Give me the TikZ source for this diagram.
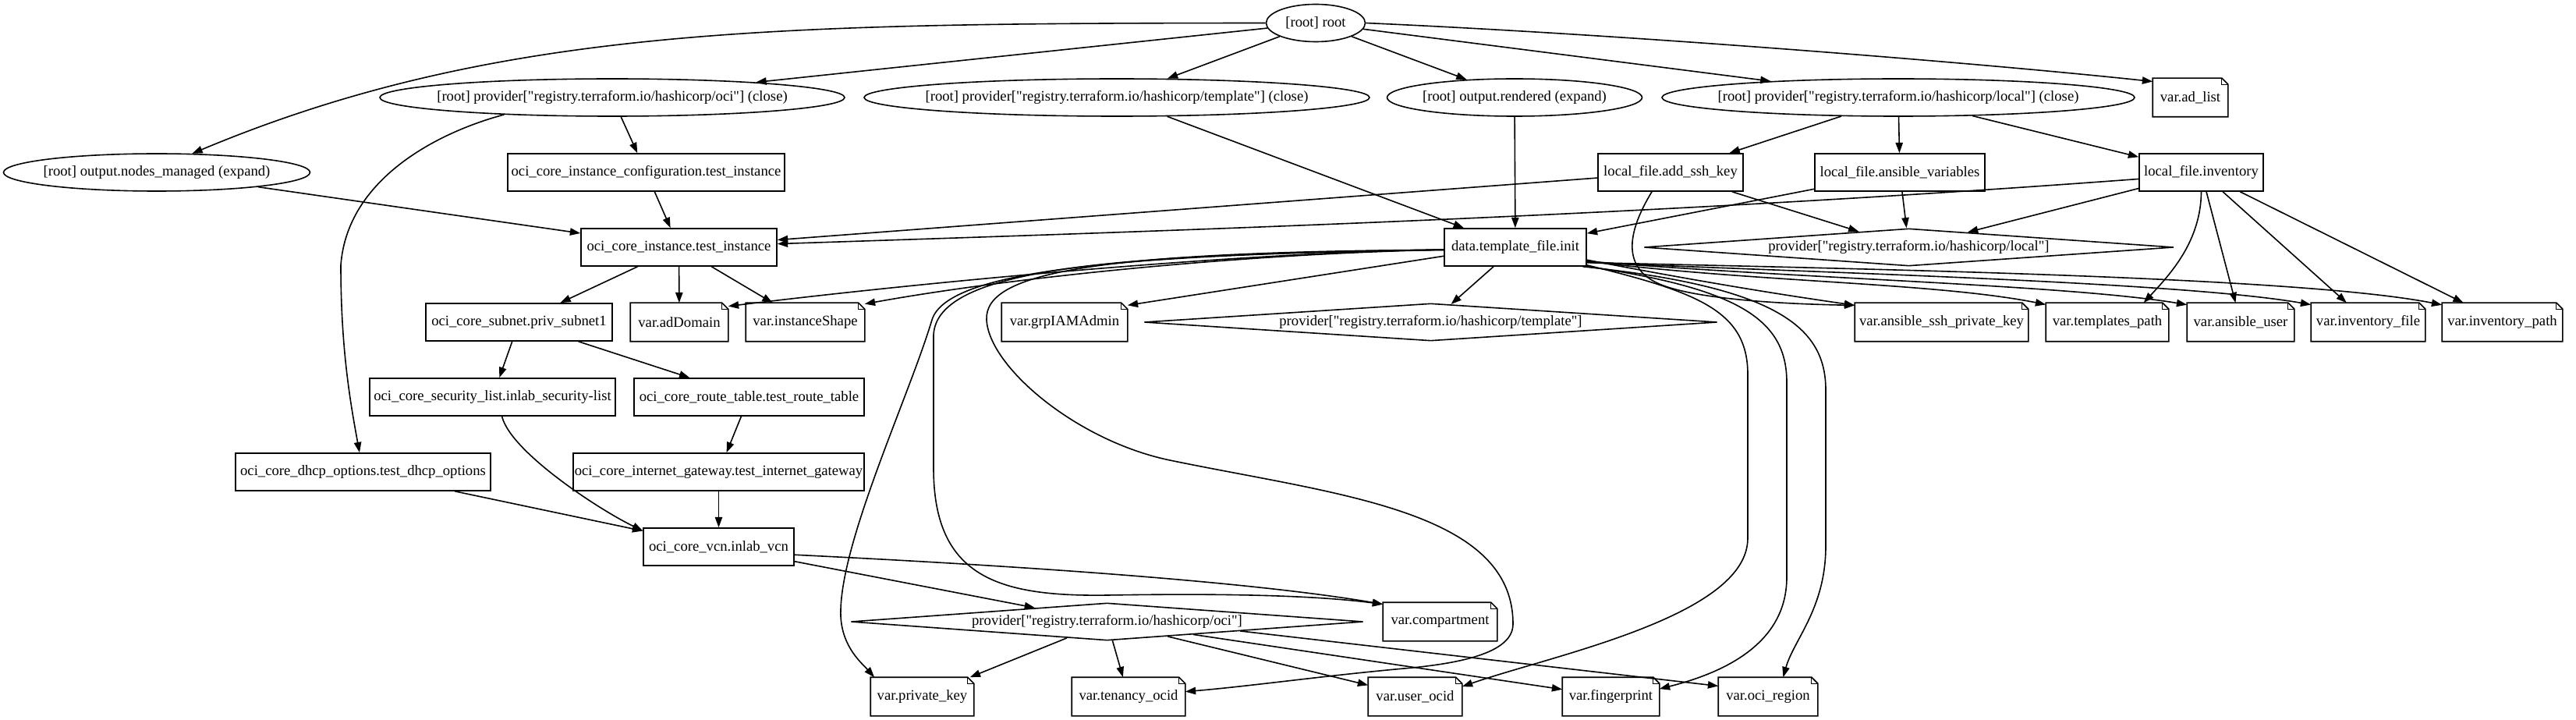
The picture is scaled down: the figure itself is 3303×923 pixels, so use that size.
\documentclass[tikz,border=0pt]{standalone}
\usepackage{fontspec}
\setmainfont{Liberation Serif}[Ligatures=TeXOff]
\usetikzlibrary{shapes.geometric,arrows.meta}
\begin{document}
\begin{tikzpicture}[x=0.75pt,y=-0.75pt,
  font=\fontsize{14}{16}\selectfont,
  line width=1.2pt,
  wpx/.style={minimum width=#1*0.75pt},
  ell/.style={ellipse,draw,inner sep=0pt,minimum height=36pt},
  bx/.style={rectangle,draw,inner sep=0pt,minimum height=36pt},
  nt/.style={rectangle,inner sep=0pt,minimum height=36pt},
  dm/.style={diamond,draw,inner sep=0pt,minimum height=36pt},
  arr/.style={-{Triangle[length=10pt,width=7pt]}},
]
\useasboundingbox (0,0) rectangle (3303,923);

% rank 0
\node[ell,wpx=127,label={center:{[root] root}}] (root) at (1687,29.5) {};
% rank 1
\node[ell,wpx=596,label={center:{[root] provider["registry.terraform.io/hashicorp/oci"] (close)}}] (pOCI) at (785,125) {};
\node[ell,wpx=648,label={center:{[root] provider["registry.terraform.io/hashicorp/template"] (close)}}] (pTPL) at (1432,125) {};
\node[ell,wpx=327,label={center:{[root] output.rendered (expand)}}] (outR) at (1942,125) {};
\node[ell,wpx=606,label={center:{[root] provider["registry.terraform.io/hashicorp/local"] (close)}}] (pLOC) at (2434,125) {};
\node[nt,wpx=95] (varAdList) at (2808.5,125) {var.ad\_list};
% rank 2
\node[ell,wpx=393,label={center:{[root] output.nodes\_managed (expand)}}] (nodesM) at (201,221) {};
\node[bx,wpx=355] (instCfg) at (828.5,221) {oci\_core\_instance\_configuration.test\_instance};
\node[bx,wpx=186] (addSsh) at (2142,221) {local\_file.add\_ssh\_key};
\node[bx,wpx=218] (ansVars) at (2436,221) {local\_file.ansible\_variables};
\node[bx,wpx=159] (inv) at (2822.5,221) {local\_file.inventory};
% rank 3
\node[bx,wpx=251] (testInst) at (870.5,317) {oci\_core\_instance.test\_instance};
\node[bx,wpx=182] (tplInit) at (1943,317) {data.template\_file.init};
\node[dm,wpx=679,label={center:{provider["registry.terraform.io/hashicorp/local"]}}] (dLoc) at (2447.5,317) {};
% rank 4
\node[bx,wpx=239] (subnet) at (665.5,413) {oci\_core\_subnet.priv\_subnet1};
\node[nt,wpx=124] (varAdDomain) at (871,413) {var.adDomain};
\node[nt,wpx=151] (varInstShape) at (1032.5,413) {var.instanceShape};
\node[nt,wpx=160] (varGrp) at (1365,413) {var.grpIAMAdmin};
\node[dm,wpx=735,label={center:{provider["registry.terraform.io/hashicorp/template"]}}] (dTpl) at (1834.5,413) {};
\node[nt,wpx=221] (varSshKey) at (2489.5,413) {var.ansible\_ssh\_private\_key};
\node[nt,wpx=156] (varTplPath) at (2702,413) {var.templates\_path};
\node[nt,wpx=136] (varAnsUser) at (2873,413) {var.ansible\_user};
\node[nt,wpx=145] (varInvFile) at (3036.5,413) {var.inventory\_file};
\node[nt,wpx=153] (varInvPath) at (3208.5,413) {var.inventory\_path};
% rank 5
\node[bx,wpx=315] (secList) at (631.5,509) {oci\_core\_security\_list.inlab\_security-list};
\node[bx,wpx=295] (routeTbl) at (960.5,509) {oci\_core\_route\_table.test\_route\_table};
% rank 6
\node[bx,wpx=327] (dhcp) at (465.5,605) {oci\_core\_dhcp\_options.test\_dhcp\_options};
\node[bx,wpx=373] (igw) at (921.5,605) {oci\_core\_internet\_gateway.test\_internet\_gateway};
% rank 7
\node[bx,wpx=193] (vcn) at (921.5,701) {oci\_core\_vcn.inlab\_vcn};
% rank 8
\node[dm,wpx=657,label={center:{provider["registry.terraform.io/hashicorp/oci"]}}] (dOci) at (1419.5,797) {};
\node[nt,wpx=145] (varComp) at (1846.5,797) {var.compartment};
% rank 9
\node[nt,wpx=131] (varPriv) at (1182.5,893) {var.private\_key};
\node[nt,wpx=144] (varTen) at (1447,893) {var.tenancy\_ocid};
\node[nt,wpx=119] (varUser) at (1814.5,893) {var.user\_ocid};
\node[nt,wpx=123] (varFp) at (2065.5,893) {var.fingerprint};
\node[nt,wpx=126] (varReg) at (2267,893) {var.oci\_region};

% note outlines
\foreach \n in {varAdList,varAdDomain,varInstShape,varGrp,varSshKey,varTplPath,varAnsUser,varInvFile,varInvPath,varComp,varPriv,varTen,varUser,varFp,varReg}{
  \draw (\n.south west) -- (\n.south east) -- ([yshift=-6pt]\n.north east) -- ([xshift=-6pt]\n.north east) -- (\n.north west) -- cycle;
  \draw[line width=0.8pt] ([xshift=-6pt]\n.north east) -- ([xshift=-6pt,yshift=-6pt]\n.north east) -- ([yshift=-6pt]\n.north east);
}

% edges from root
\draw[arr] (root.west) .. controls (1000,30) and (638,33) .. (nodesM.28);
\draw[arr] (root) -- (pOCI);
\draw[arr] (root) -- (pTPL);
\draw[arr] (root) -- (outR);
\draw[arr] (root) -- (pLOC);
\draw[arr] (root.east) .. controls (2100,45) and (2550,82) .. (varAdList.157);

% providers / outputs
\draw[arr] (pOCI) -- (instCfg);
\draw[arr] (pOCI.189) .. controls (560,170) and (445,230) .. (437,340) .. controls (437,450) and (450,520) .. (dhcp);
\draw[arr] (pTPL) -- (tplInit);
\draw[arr] (outR) -- (tplInit);
\draw[arr] (pLOC) -- (addSsh);
\draw[arr] (pLOC) -- (ansVars);
\draw[arr] (pLOC) -- (inv);

% rank 2 sources
\draw[arr] (nodesM) -- (testInst);
\draw[arr] (instCfg) -- (testInst);
\draw[arr] (addSsh) -- (testInst);
\draw[arr] (addSsh) -- (dLoc);
\draw[arr] (addSsh.226) .. controls (2085,300) and (2080,345) .. (2130,365) .. controls (2180,385) and (2300,390) .. (varSshKey.169);
\draw[arr] (ansVars) -- (tplInit);
\draw[arr] (ansVars) -- (dLoc);
\draw[arr] (inv.186) .. controls (2143,274) and (1597,293) .. (testInst.2);
\draw[arr] (inv) -- (dLoc);
\draw[arr] (inv.south) .. controls (2822,310) and (2782,352) .. (varTplPath.28);
\draw[arr] (inv) -- (varAnsUser);
\draw[arr] (inv) -- (varInvFile);
\draw[arr] (inv) -- (varInvPath);

% test instance and network
\draw[arr] (testInst) -- (subnet);
\draw[arr] (testInst) -- (varAdDomain);
\draw[arr] (testInst) -- (varInstShape);
\draw[arr] (subnet) -- (secList);
\draw[arr] (subnet) -- (routeTbl);
\draw[arr] (secList.-64) .. controls (655,580) and (771,655) .. (vcn.168);
\draw[arr] (routeTbl) -- (igw);
\draw[arr] (igw) -- (vcn);
\draw[arr] (dhcp) -- (vcn);
\draw[arr] (vcn.-6) .. controls (1300,725) and (1600,745) .. (varComp.163);
\draw[arr] (vcn) -- (dOci);

% data.template_file.init
\draw[arr] (tplInit.182) .. controls (1600,323) and (1200,360) .. (varAdDomain.18);
\draw[arr] (tplInit.182) .. controls (1600,325) and (1300,355) .. (varInstShape.17);
\draw[arr] (tplInit.187) -- (varGrp.15);
\draw[arr] (tplInit.182) .. controls (1450,326) and (1215,345) .. (1195,410) .. controls (1165,510) and (1075,700) .. (1078,790) .. controls (1080,830) and (1105,850) .. (varPriv.158);
\draw[arr] (tplInit.182) .. controls (1450,326) and (1200,340) .. (1197,430) -- (1197,600) .. controls (1197,740) and (1280,765) .. (1420,763) .. controls (1600,760) and (1700,765) .. (varComp.163);
\draw[arr] (tplInit.182) .. controls (1400,323) and (1262,350) .. (1265,410) .. controls (1268,470) and (1380,565) .. (1500,590) .. controls (1713,634) and (1940,654) .. (1940,800) .. controls (1940,835) and (1880,850) .. (1800,857) .. controls (1700,866) and (1600,880) .. (varTen.5);
\draw[arr] (tplInit) -- (dTpl);
\draw[arr] (tplInit.-10) .. controls (2200,365) and (2300,380) .. (varSshKey.169);
\draw[arr] (tplInit.-11) .. controls (2250,362) and (2480,362) .. (varTplPath.164);
\draw[arr] (tplInit.-11) .. controls (2300,357) and (2650,365) .. (varAnsUser.162);
\draw[arr] (tplInit.-12) .. controls (2350,350) and (2800,362) .. (varInvFile.163);
\draw[arr] (tplInit.-12) .. controls (2400,345) and (2950,355) .. (varInvPath.164);
\draw[arr] (tplInit.-14) .. controls (2180,375) and (2241,400) .. (2241,480) -- (2241,690) .. controls (2241,790) and (1990,840) .. (varUser.12);
\draw[arr] (tplInit.-15) .. controls (2230,370) and (2291,410) .. (2291,490) -- (2291,740) .. controls (2291,820) and (2220,860) .. (varFp.9);
\draw[arr] (tplInit.-16) .. controls (2280,368) and (2341,420) .. (2341,500) -- (2341,700) .. controls (2341,780) and (2300,820) .. (varReg.52);

% provider oci
\draw[arr] (dOci) -- (varPriv);
\draw[arr] (dOci) -- (varTen);
\draw[arr] (dOci) -- (varUser);
\draw[arr] (dOci) -- (varFp);
\draw[arr] (dOci.-4) -- (varReg.168);
\end{tikzpicture}
\end{document}
